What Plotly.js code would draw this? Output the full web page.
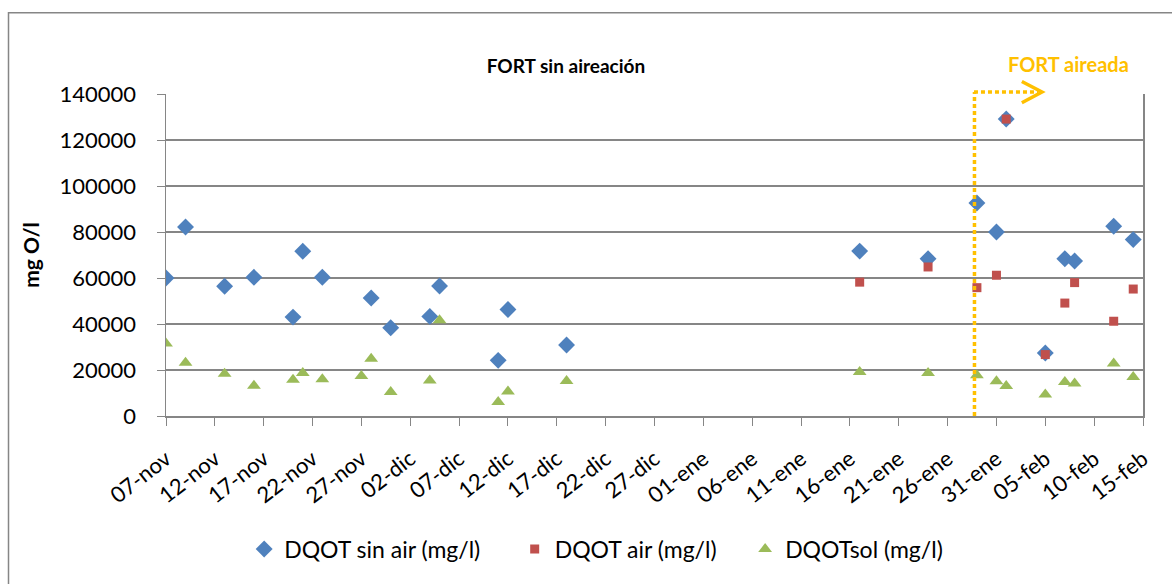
<!DOCTYPE html>
<html>
<head>
<meta charset="utf-8">
<script src="https://cdn.plot.ly/plotly-3.0.1.min.js"></script>
<style>html,body{margin:0;padding:0;background:#fff;}#chart{width:1172px;height:584px;}</style>
</head>
<body>
<div id="chart"></div>
<script>
// ---- data ----
const datesSinAir = ["2013-11-07","2013-11-09","2013-11-13","2013-11-16","2013-11-20","2013-11-21","2013-11-23","2013-11-28","2013-11-30","2013-12-04","2013-12-05","2013-12-11","2013-12-12","2013-12-18","2014-01-17","2014-01-24","2014-01-29","2014-01-31","2014-02-01","2014-02-05","2014-02-07","2014-02-08","2014-02-12","2014-02-14"];
const dqotSinAir = [60000,82200,56400,60300,43000,71600,60300,51300,38400,43300,56500,24200,46300,30900,71700,68400,92600,80000,129100,27400,68400,67400,82500,76700];

const datesAir = ["2014-01-17","2014-01-24","2014-01-29","2014-01-31","2014-02-01","2014-02-05","2014-02-07","2014-02-08","2014-02-12","2014-02-14"];
const dqotAir = [58200,64800,55800,61200,129100,26700,49100,58000,41200,55200];

const datesSol = ["2013-11-07","2013-11-09","2013-11-13","2013-11-16","2013-11-20","2013-11-21","2013-11-23","2013-11-27","2013-11-28","2013-11-30","2013-12-04","2013-12-05","2013-12-11","2013-12-12","2013-12-18","2014-01-17","2014-01-24","2014-01-29","2014-01-31","2014-02-01","2014-02-05","2014-02-07","2014-02-08","2014-02-12","2014-02-14"];
const dqotSol = [31500,23200,18400,13200,15800,18700,16000,17400,24900,10400,15400,41600,6100,10700,15200,19100,18700,17700,15100,13000,9400,14800,14100,22800,17000];

const tickDates = ["2013-11-07","2013-11-12","2013-11-17","2013-11-22","2013-11-27","2013-12-02","2013-12-07","2013-12-12","2013-12-17","2013-12-22","2013-12-27","2014-01-01","2014-01-06","2014-01-11","2014-01-16","2014-01-21","2014-01-26","2014-01-31","2014-02-05","2014-02-10","2014-02-15"];
const tickLabels = ["07-nov","12-nov","17-nov","22-nov","27-nov","02-dic","07-dic","12-dic","17-dic","22-dic","27-dic","01-ene","06-ene","11-ene","16-ene","21-ene","26-ene","31-ene","05-feb","10-feb","15-feb"];
const yTicks = [0,20000,40000,60000,80000,100000,120000,140000];
const yTickLabels = ["0","20000","40000","60000","80000","100000","120000","140000"];

const seriesNames = ["DQOT sin air (mg/l)", "DQOT air (mg/l)", "DQOTsol (mg/l)"];

const aerationStart = "2014-01-28 18:00";

// ---- chart ----
const FONT = "Lato, 'Open Sans', sans-serif";
const ORANGE = "#FFC000";
const GRID = "#868686";
const NB = "\u00a0";

const traces = [
  {x: datesSinAir, y: dqotSinAir, name: seriesNames[0] + NB.repeat(5), type: "scatter", mode: "markers",
   marker: {symbol: "diamond", size: 13, color: "#4F81BD"}},
  {x: datesAir, y: dqotAir, name: seriesNames[1] + NB.repeat(4), type: "scatter", mode: "markers",
   marker: {symbol: "square", size: 9, color: "#C0504D"}},
  {x: datesSol, y: dqotSol, name: seriesNames[2], type: "scatter", mode: "markers",
   marker: {symbol: "triangle-up", size: 12, color: "#9BBB59"}}
];

const layout = {
  width: 1172, height: 584,
  margin: {l: 166, r: 29, t: 94, b: 168},
  paper_bgcolor: "#fff", plot_bgcolor: "#fff",
  font: {family: FONT, color: "#000"},
  showlegend: true,
  title: {text: "<b>FORT sin aireación</b>", font: {family: FONT, size: 19, color: "#000"},
          xref: "paper", x: 0.4094, xanchor: "center", yref: "container", y: 0.887, yanchor: "middle"},
  xaxis: {
    type: "date", range: ["2013-11-07", "2014-02-15"],
    tickmode: "array", tickvals: tickDates, ticktext: tickLabels,
    tickangle: -38, tickfont: {family: FONT, size: 22, color: "#000"},
    ticks: "outside", ticklen: 8, tickcolor: GRID, tickwidth: 1,
    ticklabelstandoff: 12,
    showgrid: false, showline: true, linecolor: GRID, linewidth: 1.5,
    zeroline: false, fixedrange: true
  },
  yaxis: {
    range: [0, 140000], tickmode: "array", tickvals: yTicks, ticktext: yTickLabels,
    tickfont: {family: FONT, size: 22, color: "#000"},
    ticks: "outside", ticklen: 8, tickcolor: GRID, tickwidth: 1,
    ticklabelstandoff: 16,
    showgrid: true, gridcolor: GRID, gridwidth: 1.5,
    showline: true, linecolor: GRID, linewidth: 1.5, mirror: true,
    zeroline: false,
    title: {text: "<b>mg O/l</b>", font: {family: FONT, size: 21, color: "#000"}, standoff: 14}
  },
  legend: {orientation: "h", x: 0.08, xanchor: "left", y: -0.413, yanchor: "middle",
           font: {family: FONT, size: 23, color: "#000"}, bgcolor: "rgba(0,0,0,0)"},
  shapes: [
    // outer chart border
    {type: "rect", xref: "paper", yref: "paper", x0: -0.1612, x1: 1.04, y0: -0.56, y1: 1.2522,
     line: {color: GRID, width: 1.5}, fillcolor: "rgba(0,0,0,0)", layer: "below"},
    // aeration start: vertical dotted line
    {type: "line", xref: "x", yref: "paper", x0: aerationStart, x1: aerationStart, y0: 0, y1: 1.006,
     line: {color: ORANGE, width: 3.5, dash: "4px,3px"}},
    // horizontal dotted arrow
    {type: "line", xref: "paper", yref: "paper", x0: 0.827, x1: 0.893, y0: 1.006, y1: 1.006,
     line: {color: ORANGE, width: 3.5, dash: "4px,3px"}},
    // chevron arrow head
    {type: "path", xref: "paper", yref: "paper",
     path: "M 0.876 1.039 L 0.8966 1.006 L 0.876 0.973",
     line: {color: ORANGE, width: 3.5}}
  ],
  annotations: [
    {text: "<b>FORT aireada</b>", xref: "paper", yref: "paper", x: (1068-166)/977, y: (416-64)/322,
     xanchor: "center", yanchor: "middle", showarrow: false,
     font: {family: FONT, size: 20, color: ORANGE}}
  ]
};

Plotly.newPlot("chart", traces, layout, {displayModeBar: false, staticPlot: true});
</script>
</body>
</html>
